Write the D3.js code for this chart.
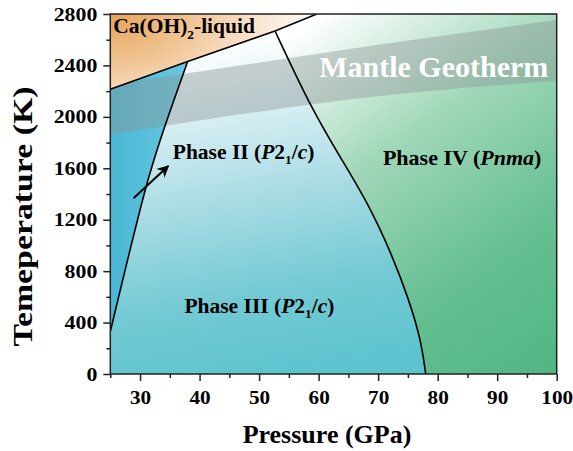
<!DOCTYPE html>
<html>
<head>
<meta charset="utf-8">
<script src="https://cdn.jsdelivr.net/npm/d3@7"></script>
<style>
  html, body { margin: 0; padding: 0; background: #fff; }
  svg { display: block; }
  text { font-family: "Liberation Serif", "Times New Roman", serif; font-weight: bold; }
</style>
</head>
<body>
<svg id="chart" width="573" height="451"></svg>
<script>
// ---------------- data ----------------
const xMajorTicks = [30, 40, 50, 60, 70, 80, 90, 100];
const xMinorTicks = [25, 35, 45, 55, 65, 75, 85, 95];
const yMajorTicks = [0, 400, 800, 1200, 1600, 2000, 2400, 2800];
const yMinorTicks = [200, 600, 1000, 1400, 1800, 2200, 2600];

// liquidus (Ca(OH)2 melting line): pressure (GPa), temperature (K)
const liquidusP = [25, 38, 52.67, 59.7];
const liquidusT = [2215, 2430, 2668, 2800];

// Phase II / Phase III boundary
const b23P = [25, 31.1, 33.4, 38];
const b23T = [330, 1470, 1820, 2430];

// Phase III / Phase IV boundary (from bottom to top)
const b34P = [77.99, 77.2, 75.19, 72.33, 68.47, 63.93, 58.89, 52.67];
const b34T = [0, 264, 576, 926, 1314, 1664, 2053, 2668];

// Mantle geotherm band
const geoP = [25, 44, 70, 100];
const geoTop = [2250, 2380, 2560, 2753];
const geoBottom = [1860, 2000, 2160, 2280];

// Arrow (tail -> head)
const arrowP = [28.9, 34.74];
const arrowT = [1367, 1618];

// ---------------- layout ----------------
const svg = d3.select("#chart");
const L = 110.3, R = 556.7, T = 14, B = 374;
const x = d3.scaleLinear().domain([25, 100]).range([L, R]);
const y = d3.scaleLinear().domain([0, 2800]).range([B, T]);

const defs = svg.append("defs");
defs.append("clipPath").attr("id", "plotclip")
  .append("rect").attr("x", L).attr("y", T).attr("width", R - L).attr("height", B - T);

// gradients
const gIV = defs.append("linearGradient").attr("id", "gIV")
  .attr("gradientUnits", "userSpaceOnUse")
  .attr("x1", 315).attr("y1", 20).attr("x2", 560).attr("y2", 370);
gIV.append("stop").attr("offset", 0).attr("stop-color", "#ffffff");
gIV.append("stop").attr("offset", 0.35).attr("stop-color", "#9fd7b8");
gIV.append("stop").attr("offset", 0.7).attr("stop-color", "#65bf91");
gIV.append("stop").attr("offset", 1).attr("stop-color", "#52b683");

const gIII = defs.append("linearGradient").attr("id", "gIII")
  .attr("gradientUnits", "userSpaceOnUse")
  .attr("x1", 230).attr("y1", 40).attr("x2", 290).attr("y2", 374);
gIII.append("stop").attr("offset", 0).attr("stop-color", "#ffffff");
gIII.append("stop").attr("offset", 0.45).attr("stop-color", "#acdde5");
gIII.append("stop").attr("offset", 0.75).attr("stop-color", "#74cad4");
gIII.append("stop").attr("offset", 1).attr("stop-color", "#5dc4cf");

const gII = defs.append("linearGradient").attr("id", "gII")
  .attr("gradientUnits", "userSpaceOnUse")
  .attr("x1", 110).attr("y1", 0).attr("x2", 190).attr("y2", 0);
gII.append("stop").attr("offset", 0).attr("stop-color", "#4ab7d6");
gII.append("stop").attr("offset", 1).attr("stop-color", "#68c9df");

const gL = defs.append("radialGradient").attr("id", "gL")
  .attr("gradientUnits", "userSpaceOnUse")
  .attr("cx", 110).attr("cy", 14).attr("r", 210)
  .attr("gradientTransform", "translate(110,14) scale(1,0.62) translate(-110,-14)");
gL.append("stop").attr("offset", 0).attr("stop-color", "#e8a258");
gL.append("stop").attr("offset", 0.35).attr("stop-color", "#f0c18e");
gL.append("stop").attr("offset", 0.7).attr("stop-color", "#f9e4d0");
gL.append("stop").attr("offset", 1).attr("stop-color", "#ffffff");

defs.append("marker").attr("id", "arrowhead")
  .attr("viewBox", "0 0 10 10").attr("refX", 9).attr("refY", 5)
  .attr("markerWidth", 6).attr("markerHeight", 6)
  .attr("markerUnits", "strokeWidth")
  .attr("orient", "auto")
  .append("path").attr("d", "M0,0 L10,5 L0,10 L3,5 Z").attr("fill", "#000");

// helpers
const zip = (P, Tt) => P.map((p, i) => [p, Tt[i]]);
const curveLine = d3.line().x(d => x(d[0])).y(d => y(d[1])).curve(d3.curveCatmullRom.alpha(0.5));
const smoothLine = d3.line().x(d => x(d[0])).y(d => y(d[1])).curve(d3.curveBasis);
const linLine = d3.line().x(d => x(d[0])).y(d => y(d[1]));
const cont = s => s.replace(/^M/, "L");

const liq = zip(liquidusP, liquidusT);
const b23 = zip(b23P, b23T);
const b34 = zip(b34P, b34T);

const plot = svg.append("g").attr("clip-path", "url(#plotclip)");

// Phase IV: whole plot
plot.append("rect").attr("x", L).attr("y", T).attr("width", R - L).attr("height", B - T)
  .attr("fill", "url(#gIV)");

// Phase III: left of III/IV boundary
plot.append("path")
  .attr("d", `M${x(25)},${y(0)}` + cont(smoothLine(b34)) +
    `L${x(b34P[b34P.length - 1])},${y(2800) - 5}L${x(25) - 5},${y(2800) - 5}L${x(25) - 5},${y(0)}Z`)
  .attr("fill", "url(#gIII)");

// Phase II: left of II/III boundary
plot.append("path")
  .attr("d", curveLine(b23) +
    `L${x(b23P[b23P.length - 1])},${y(2800) - 5}L${x(25) - 5},${y(2800) - 5}L${x(25) - 5},${y(b23T[0])}Z`)
  .attr("fill", "url(#gII)");

// Mantle geotherm band
const bandArea = d3.area()
  .x((d, i) => x(geoP[i]))
  .y0((d, i) => y(geoBottom[i]))
  .y1((d, i) => y(geoTop[i]))
  .curve(d3.curveMonotoneX);
plot.append("path")
  .attr("d", bandArea(geoP))
  .attr("fill", "#8a9494").attr("fill-opacity", 0.42);

// liquid region (above liquidus)
plot.append("path")
  .attr("d", linLine(liq) + `L${x(liquidusP[liquidusP.length - 1])},${y(2800) - 5}L${x(25) - 5},${y(2800) - 5}L${x(25) - 5},${y(liquidusT[0])}Z`)
  .attr("fill", "url(#gL)");

// boundaries
plot.append("path").attr("d", linLine(liq)).attr("fill", "none").attr("stroke", "#000").attr("stroke-width", 1.6);
plot.append("path").attr("d", curveLine(b23)).attr("fill", "none").attr("stroke", "#000").attr("stroke-width", 1.6);
plot.append("path").attr("d", smoothLine(b34)).attr("fill", "none").attr("stroke", "#000").attr("stroke-width", 1.6);

// arrow
svg.append("line")
  .attr("x1", x(arrowP[0])).attr("y1", y(arrowT[0]))
  .attr("x2", x(arrowP[1])).attr("y2", y(arrowT[1]))
  .attr("stroke", "#000").attr("stroke-width", 2)
  .attr("marker-end", "url(#arrowhead)");

// labels
const lab = svg.append("g").attr("fill", "#000");
function label(px, pt, parts, size, fill) {
  const t = lab.append("text").attr("x", x(px)).attr("y", y(pt))
    .attr("font-size", size).attr("fill", fill || "#000");
  parts.forEach(p => {
    const s = t.append("tspan").text(p.t);
    if (p.i) s.attr("font-style", "italic");
    if (p.sub) s.attr("font-size", size * 0.62).attr("dy", size * 0.25);
    if (p.unsub) s.attr("dy", -size * 0.25);
  });
  return t;
}
label(25.5, 2650, [{t: "Ca(OH)"}, {t: "2", sub: true}, {t: "-liquid", unsub: true}], 21.5);
label(35.5, 1672, [{t: "Phase II ("}, {t: "P", i: true}, {t: "2"}, {t: "1", sub: true}, {t: "/", unsub: true}, {t: "c", i: true}, {t: ")"}], 21.5);
label(37.45, 474, [{t: "Phase III ("}, {t: "P", i: true}, {t: "2"}, {t: "1", sub: true}, {t: "/", unsub: true}, {t: "c", i: true}, {t: ")"}], 21.5);
label(70.8, 1625, [{t: "Phase IV ("}, {t: "Pnma", i: true}, {t: ")"}], 22);
label(60.1, 2308, [{t: "Mantle Geotherm"}], 30, "#ffffff");

// frame
svg.append("rect").attr("x", L).attr("y", T).attr("width", R - L).attr("height", B - T)
  .attr("fill", "none").attr("stroke", "#222").attr("stroke-width", 1.5);

// axes
const xAxisMinor = svg.append("g").attr("transform", `translate(0,${B})`)
  .call(d3.axisBottom(x).tickValues(xMinorTicks).tickSize(4).tickFormat(""));
const xAxis = svg.append("g").attr("transform", `translate(0,${B})`)
  .call(d3.axisBottom(x).tickValues(xMajorTicks).tickSize(7).tickFormat(d3.format("d")));
const yAxisMinor = svg.append("g").attr("transform", `translate(${L},0)`)
  .call(d3.axisLeft(y).tickValues(yMinorTicks).tickSize(4).tickFormat(""));
const yAxis = svg.append("g").attr("transform", `translate(${L},0)`)
  .call(d3.axisLeft(y).tickValues(yMajorTicks).tickSize(7).tickFormat(d3.format("d")));

[xAxisMinor, xAxis, yAxisMinor, yAxis].forEach(g => {
  g.select(".domain").remove();
  g.selectAll(".tick line").attr("stroke", "#222").attr("stroke-width", 1.5);
});
xAxis.selectAll(".tick text")
  .attr("y", 30).attr("dy", 0)
  .attr("font-size", 18).attr("fill", "#000")
  .attr("font-family", "Liberation Serif, Times New Roman, serif").attr("font-weight", "bold")
  .attr("textLength", d => String(d).length * 10.6).attr("lengthAdjust", "spacingAndGlyphs");
yAxis.selectAll(".tick text")
  .attr("x", -13).attr("dy", "0.34em")
  .attr("font-size", 18).attr("fill", "#000")
  .attr("font-family", "Liberation Serif, Times New Roman, serif").attr("font-weight", "bold")
  .attr("textLength", d => String(d).length * 10.9).attr("lengthAdjust", "spacingAndGlyphs");

// axis titles
svg.append("text").attr("x", 327).attr("y", 443).attr("text-anchor", "middle")
  .attr("font-size", 26).text("Pressure (GPa)");
svg.append("text").attr("transform", "rotate(-90)")
  .attr("x", -216.5).attr("y", 32).attr("text-anchor", "middle")
  .attr("font-size", 27)
  .attr("textLength", 260).attr("lengthAdjust", "spacingAndGlyphs")
  .text("Temeperature (K)");
</script>
</body>
</html>
